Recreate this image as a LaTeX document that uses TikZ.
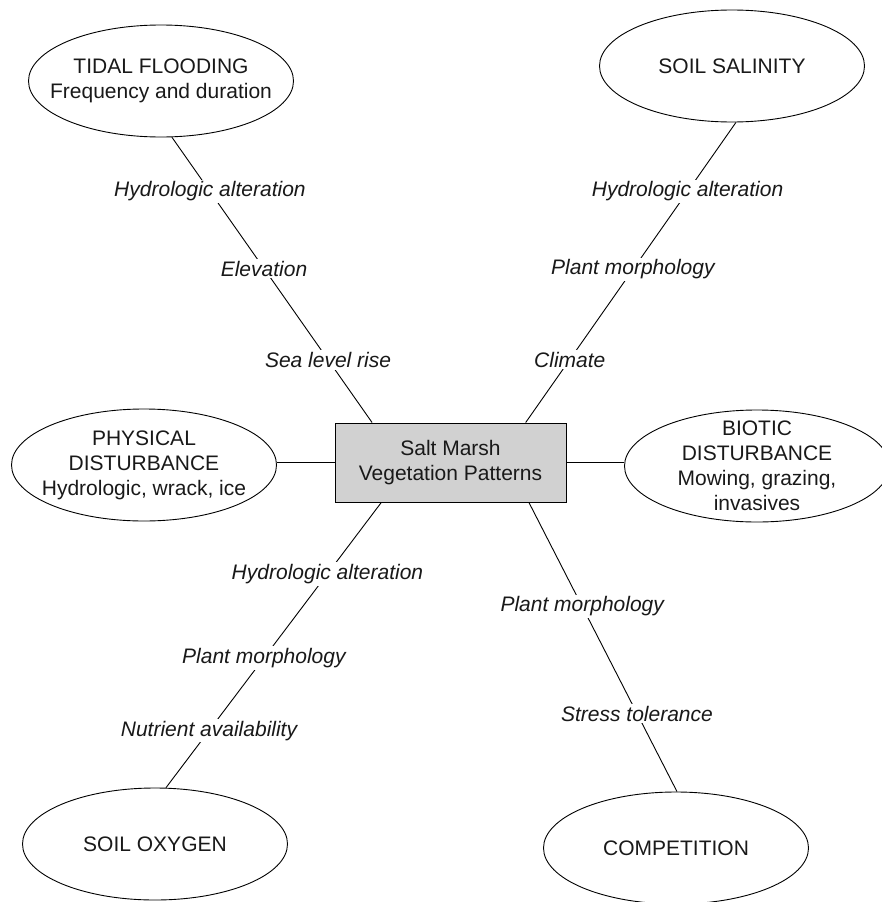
\documentclass[tikz,border=0pt]{standalone}
\usepackage{fontspec}
\setmainfont{Liberation Sans}
\usepackage{tikz}
\usetikzlibrary{shapes.geometric}

\begin{document}
\begin{tikzpicture}[x=1pt,y=-1pt,line width=0.9pt,
  factor/.style={draw,ellipse,minimum width=265pt,minimum height=112pt,inner sep=0pt,
    label={[align=center,text=black!90,font=\fontsize{21}{25}\selectfont]center:#1}},
  core/.style={draw,fill=black!18,minimum width=231pt,minimum height=79pt,inner sep=0pt,
    align=center,text=black!90,font=\fontsize{21}{25}\selectfont},
  via/.style={fill=white,inner sep=2pt,text=black!90,font=\fontsize{21}{25}\selectfont\itshape}]
\useasboundingbox (0,0) rectangle (881,902);

% Center box
\node[core] (veg) at (450.5,462.5) {Salt Marsh\\Vegetation Patterns};

% Factors
\node[factor={TIDAL FLOODING\\Frequency and duration}] (tidal) at (161,81) {};
\node[factor={SOIL SALINITY}] (salinity) at (732,66) {};
\node[factor={PHYSICAL\\DISTURBANCE\\Hydrologic, wrack, ice}] (physical) at (144,465) {};
\node[factor={BIOTIC\\DISTURBANCE\\Mowing, grazing,\\invasives}] (biotic) at (757,466) {};
\node[factor={SOIL OXYGEN}] (oxygen) at (155,844) {};
\node[factor={COMPETITION}] (compet) at (676,848) {};

% Links with their mechanisms
\draw (veg.153) -- node[via,pos=0.22] {Sea level rise}
  node[via,pos=0.54] {Elevation}
  node[via,pos=0.81] {Hydrologic alteration} (tidal.-79);
\draw (veg.28) -- node[via,pos=0.21] {Climate}
  node[via,pos=0.51] {Plant morphology}
  node[via,pos=0.77] {Hydrologic alteration} (salinity.-86);
\draw (veg.210) -- node[via,pos=0.25] {Hydrologic alteration}
  node[via,pos=0.545] {Plant morphology}
  node[via,pos=0.80] {Nutrient availability} (oxygen.79);
\draw (veg.-27) -- node[via,pos=0.36] {Plant morphology}
  node[via,pos=0.73] {Stress tolerance} (compet.89);
\draw (veg.west) -- (physical.east |- veg.west);
\draw (veg.east) -- (biotic.west |- veg.east);
\end{tikzpicture}
\end{document}
